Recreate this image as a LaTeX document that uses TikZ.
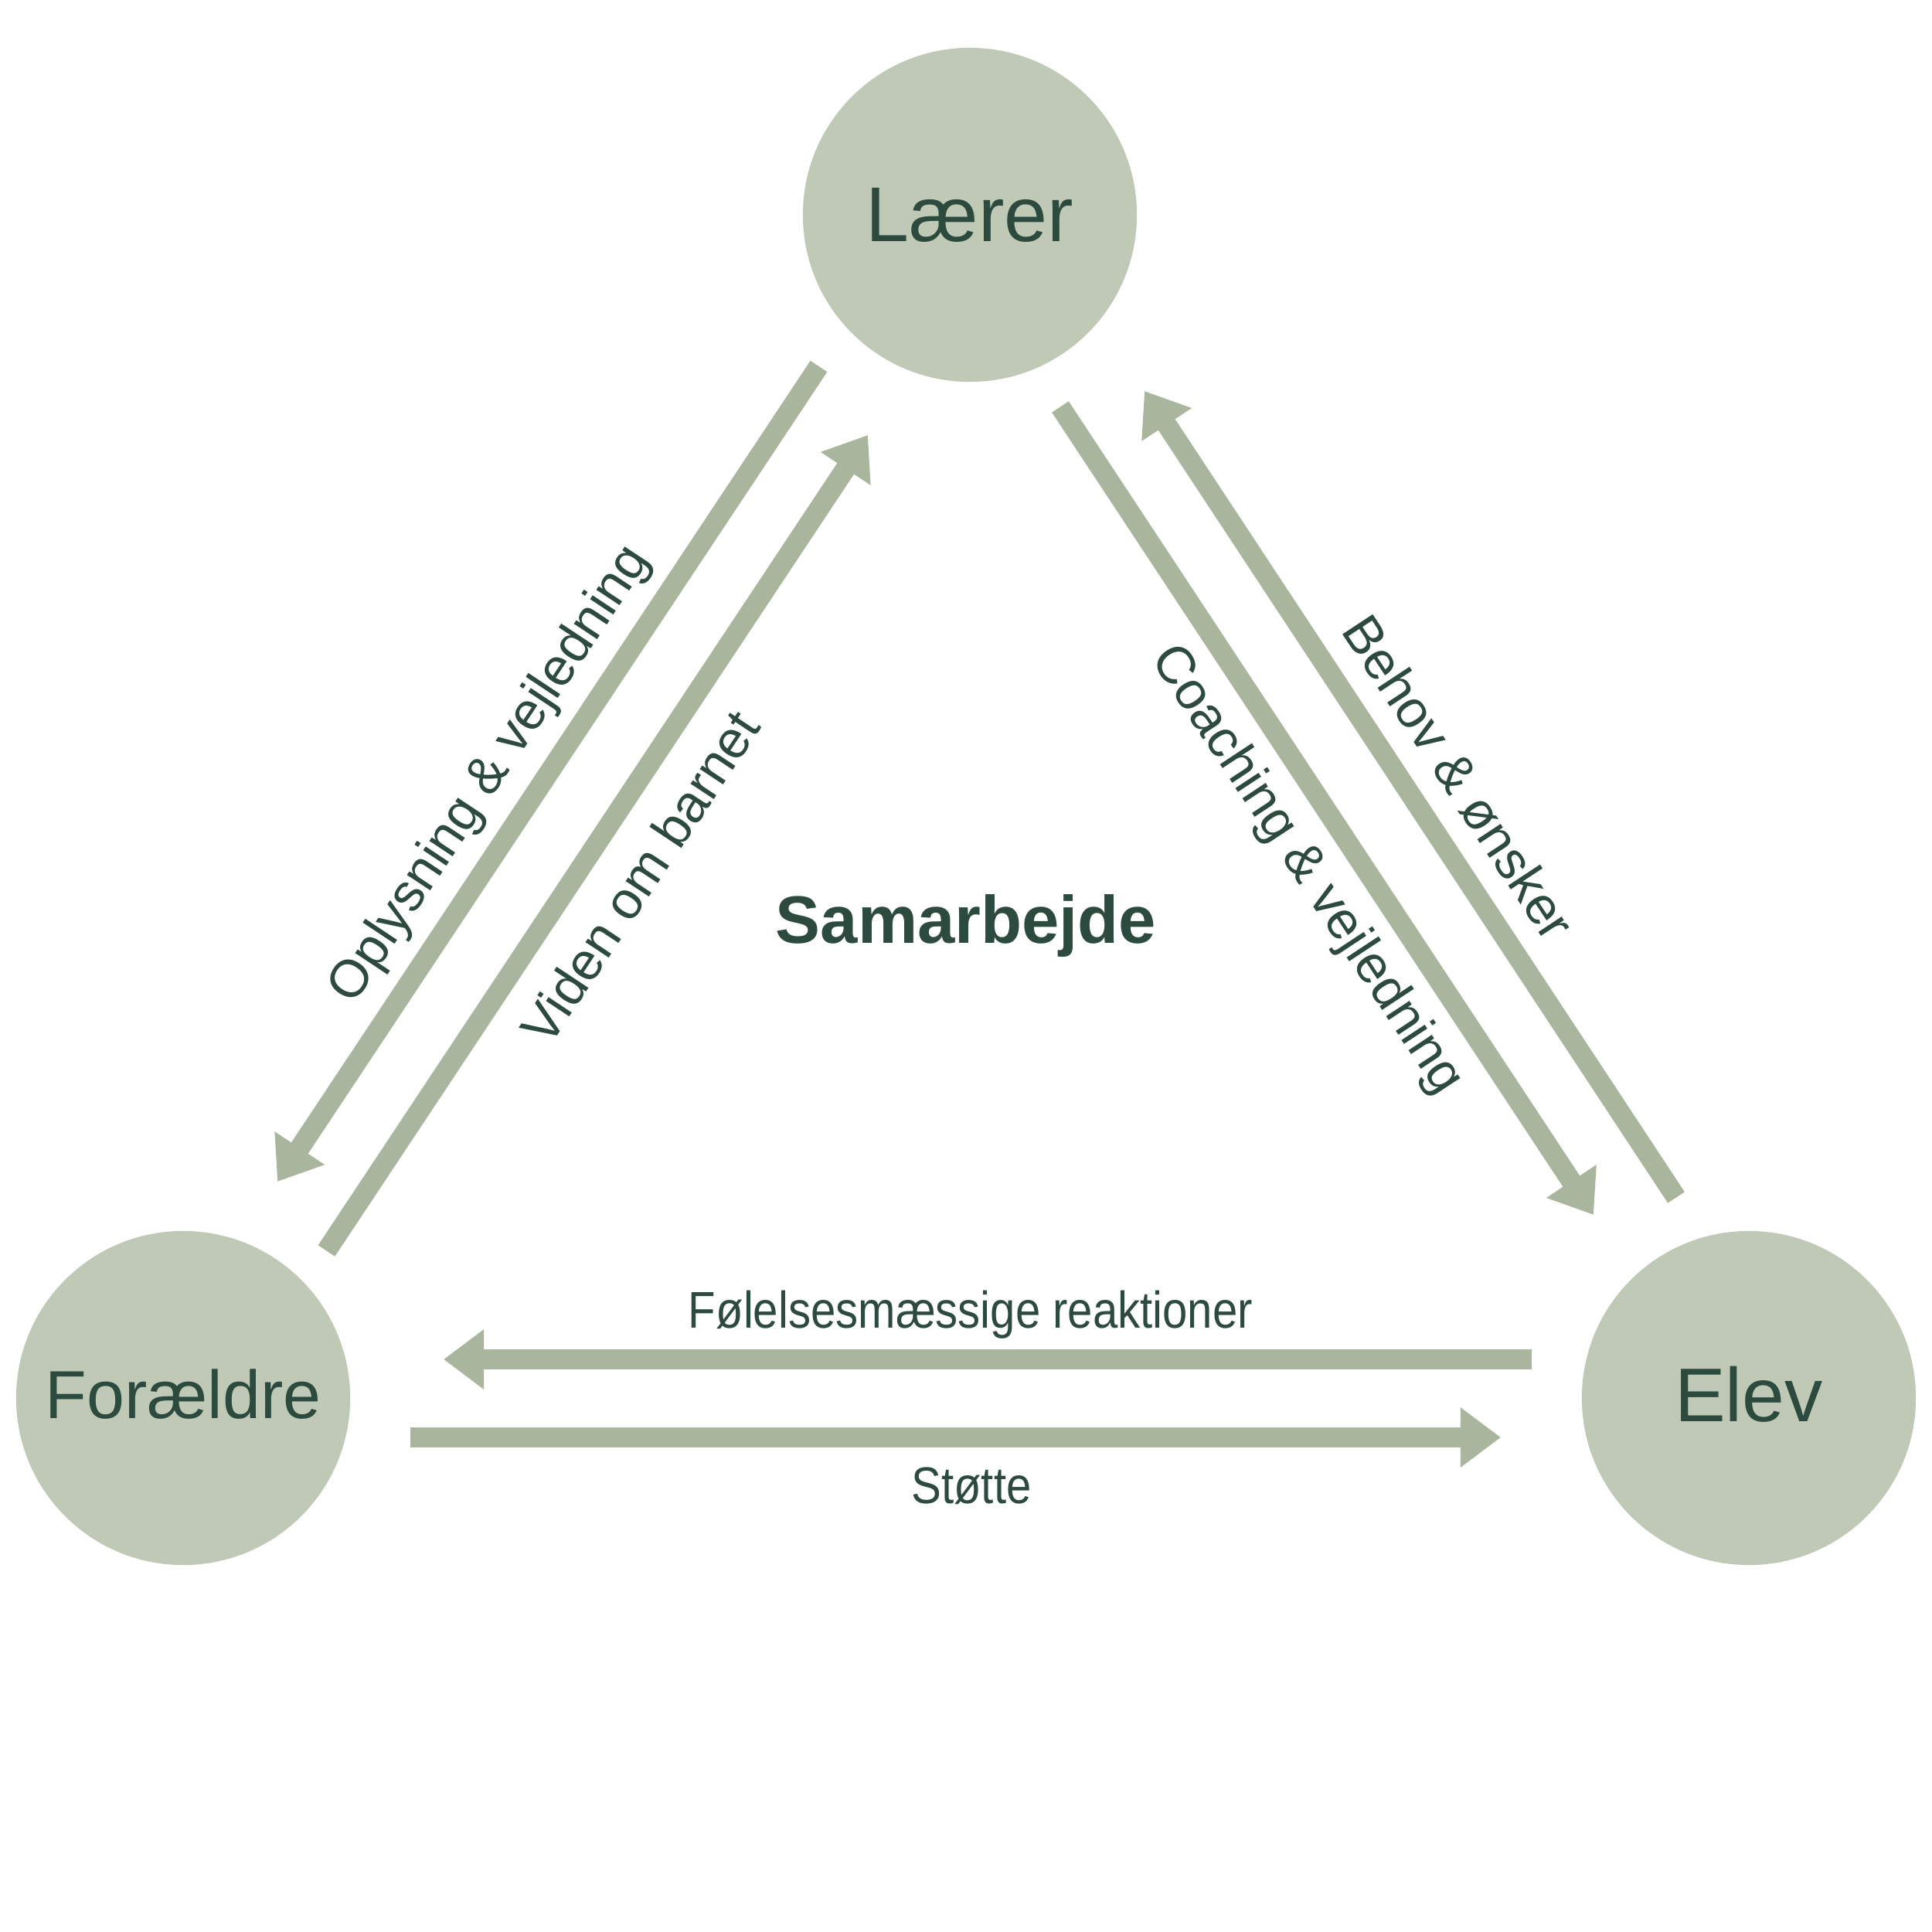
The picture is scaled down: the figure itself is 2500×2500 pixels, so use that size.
\documentclass[tikz,border=0pt]{standalone}
\usepackage{fontspec}
\setmainfont{Liberation Sans}
\usetikzlibrary{arrows.meta}
\definecolor{circ}{HTML}{BFC9B6}
\definecolor{arr}{HTML}{A9B69D}
\definecolor{ink}{HTML}{2D4A3E}
\begin{document}
\begin{tikzpicture}[x=0.01cm,y=-0.01cm,
  person/.style={circle,fill=circ,minimum size=4.32cm,inner sep=0pt,text=ink},
  flow/.style={line width=0.26cm,draw=arr,-{Triangle[width=0.74cm,length=0.52cm]}},
  lab/.style={text=ink,font=\fontsize{19.4}{23}\selectfont,inner sep=0pt},
  hlab/.style={text=ink,font=\fontsize{19}{23}\selectfont,inner sep=0pt}]
\useasboundingbox (0,0) rectangle (2500,2500);
\fill[white] (0,0) rectangle (2500,2500);
% persons
\node[person,font=\fontsize{28.6}{34}\selectfont] (laerer) at (1255,278) {Lærer};
\node[person,font=\fontsize{25}{30}\selectfont] (foraeldre) at (237,1809) {\raisebox{0.1cm}{Forældre}};
\node[person,font=\fontsize{28}{34}\selectfont] (elev) at (2263,1809) {\raisebox{0.1cm}{Elev}};
% arrow ends
\coordinate (o1) at (1059.5,474);  \coordinate (o2) at (359,1529);
\coordinate (v1) at (422.5,1618.5); \coordinate (v2) at (1123,563);
\coordinate (c1) at (1372,526.5);  \coordinate (c2) at (2062,1572);
\coordinate (b1) at (2169,1549.5); \coordinate (b2) at (1481,506);
\coordinate (f1) at (1982,1759);   \coordinate (f2) at (574,1759);
\coordinate (s1) at (531,1860);    \coordinate (s2) at (1942,1860);
% arrows
\draw[flow] (o1) -- (o2);
\draw[flow] (v1) -- (v2);
\draw[flow] (c1) -- (c2);
\draw[flow] (b1) -- (b2);
\draw[flow] (f1) -- (f2);
\draw[flow] (s1) -- (s2);
% labels
\node[lab,rotate=56.4] (lo) at (635,1003) {Oplysning \& vejledning};
\node[lab,rotate=56.4] (lv) at (828,1135) {Viden om barnet};
\node[lab,rotate=-56.6] (lc) at (1690,1126) {Coaching \& vejledning};
\node[lab,rotate=-56.6] (lb) at (1888,1006) {Behov \& ønsker};
\node[hlab,anchor=base] (lf) at (1256,1718) {\scalebox{0.87}[1]{Følelsesmæssige reaktioner}};
\node[hlab,anchor=base] (ls) at (1257,1945) {\scalebox{0.87}[1]{Støtte}};
\node[text=ink,font=\bfseries\fontsize{24.7}{30}\selectfont,anchor=base,inner sep=0pt] (sam) at (1250,1220) {Samarbejde};
\end{tikzpicture}
\end{document}
